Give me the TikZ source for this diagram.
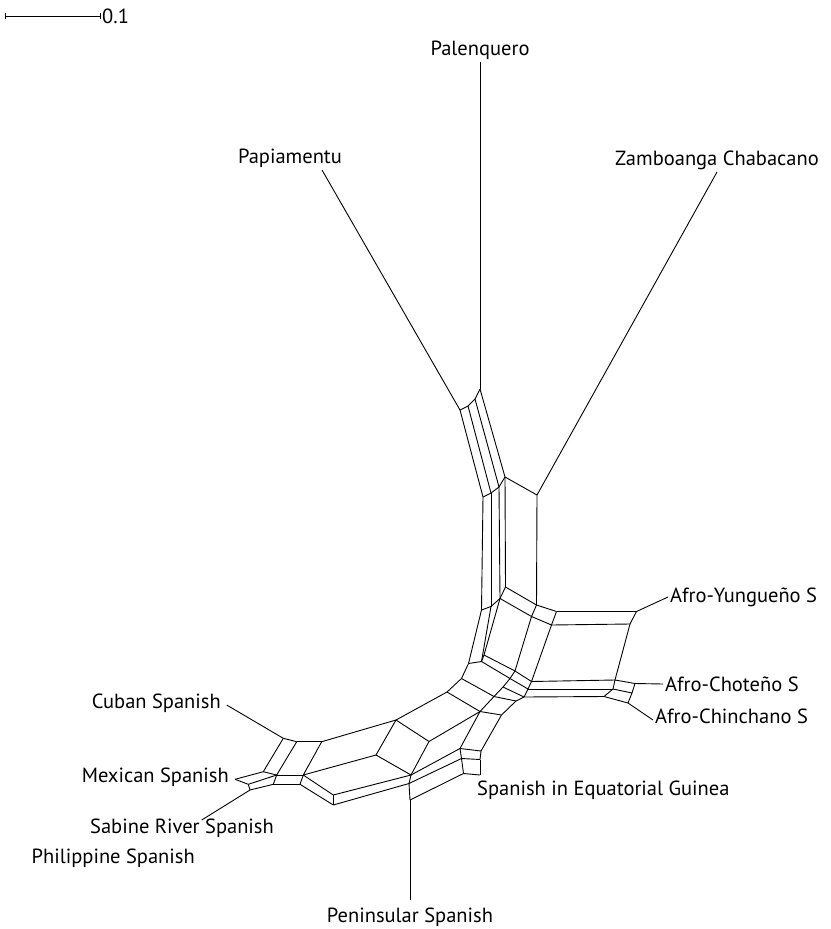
\documentclass[tikz,border=0pt]{standalone}
\usepackage{fontspec}
\setmainfont{PT Sans}
\usetikzlibrary{positioning}
\tikzset{
    edge/.style={line width=0.9pt, black, line join=round},
    taxon/.style={font=\fontsize{20.5}{23}\selectfont, inner sep=1pt}
}

\begin{document}
\begin{tikzpicture}[x=1pt, y=-1pt]
    \useasboundingbox (0,0) rectangle (830,929);

    % scale bar
    \coordinate (sb1) at (5,16);
    \coordinate (sb2) at (100,16);
    \draw[edge] (sb1) -- (sb2);
    \draw[edge] ([yshift=3pt]sb1) -- ([yshift=-3pt]sb1);
    \draw[edge] ([yshift=3pt]sb2) -- ([yshift=-3pt]sb2);
    \node[taxon, anchor=west] (scale) at (101,16) {0.1};

    % top strip
    \coordinate (t1) at (460,410);   \coordinate (t2) at (468,406);
    \coordinate (t3) at (475,399);   \coordinate (t4) at (480,389);
    \coordinate (b1) at (483,497);   \coordinate (b2) at (491,493);
    \coordinate (b3) at (499,487);   \coordinate (b4) at (505,477);
    \coordinate (z1) at (537,495);

    % vertical band
    \coordinate (c1) at (481.5,610); \coordinate (c2) at (491,606.5);
    \coordinate (c3) at (500,598.5); \coordinate (c4) at (505.5,587);
    \coordinate (z2) at (536.5,605);

    % square towards the Afro varieties
    \coordinate (p1) at (531.5,616.5);
    \coordinate (y1) at (556.5,611.5); \coordinate (y2) at (551.5,625);
    \coordinate (y3) at (636.5,611.5); \coordinate (y4) at (630,624);
    \coordinate (s1) at (531.5,681.5); \coordinate (s2) at (528,689);
    \coordinate (s3) at (524,697);
    \coordinate (r1) at (615,680);   \coordinate (r2) at (635,683.5);
    \coordinate (r3) at (632,693);   \coordinate (r4) at (613,689);
    \coordinate (r5) at (628,703);   \coordinate (r6) at (604,696.5);

    % inner part
    \coordinate (d1) at (468.5,663.5); \coordinate (d2) at (481.5,661.5);
    \coordinate (d3) at (484,655);
    \coordinate (e3) at (515,671);   \coordinate (e2) at (510,678.5);
    \coordinate (e1) at (503,687);
    \coordinate (f1) at (461.5,678.5); \coordinate (g1) at (494,696.5);
    \coordinate (g2) at (516,701);
    \coordinate (h1) at (447,692);   \coordinate (h2) at (480,711.5);
    \coordinate (n2) at (501.5,715);
    \coordinate (k1) at (396,720);   \coordinate (k2) at (429,741.5);
    \coordinate (k3) at (411,775);   \coordinate (k4) at (376,755);
    \coordinate (k5) at (409,783.5); \coordinate (k6) at (410,800);

    % Equatorial Guinea box
    \coordinate (m1) at (460,748.5); \coordinate (m2) at (481,751);
    \coordinate (m3) at (461.5,758.5); \coordinate (m4) at (480,759.5);
    \coordinate (m5) at (463.5,773.5); \coordinate (m6) at (480,775);

    % left part
    \coordinate (cu1) at (283.3,738.3); \coordinate (cu2) at (296.7,741.7);
    \coordinate (cu3) at (321.7,741.7);
    \coordinate (cl1) at (263.3,771.7); \coordinate (cl2) at (276.7,775);
    \coordinate (cl3) at (303.3,775);
    \coordinate (cm2) at (273.3,784.3); \coordinate (cm3) at (300,784.3);
    \coordinate (bt1) at (333.3,795);  \coordinate (bt2) at (333.3,805);
    \coordinate (mx) at (235,779.3);   \coordinate (px) at (248.3,784.3);
    \coordinate (sb) at (250,790);

    % leaf ends
    \coordinate (palend) at (480,62);
    \coordinate (papend) at (322,170);
    \coordinate (zamend) at (717,172);
    \coordinate (yunend) at (668,597);
    \coordinate (choend) at (663,684);
    \coordinate (chiend) at (653,720);
    \coordinate (cubend) at (226.7,705);
    \coordinate (sabend) at (201.7,820);
    \coordinate (penend) at (410,900);

    % splits
    \foreach \a/\b in {t1/t2, t2/t3, t3/t4, b1/b2, b2/b3, b3/b4, t1/b1, t2/b2, t3/b3, t4/b4, b4/z1,
                       b1/c1, b2/c2, b3/c3, b4/c4, z1/z2, c1/c2, c2/c3, c3/c4, c4/z2,
                       z2/y1, c3/p1, z2/p1, p1/y2, y1/y2, y1/y3, y2/y4, y3/y4, y2/s1, y4/r1, s1/r1,
                       r1/r2, r2/r3, r3/r4, r1/r4, r4/r6, r3/r5, r5/r6, s1/s2, s2/s3, s2/r4, s3/r6,
                       c1/d1, c2/d2, c3/d3, d1/d2, d2/d3, d3/e3, p1/e3, e3/s1, d2/e2, e3/e2, e2/s2,
                       e2/e1, e1/g1, e1/s3, d1/f1, f1/g1, g1/g2, g2/s3,
                       f1/h1, h1/k1, g1/h2, h1/h2, h2/k2, k1/k2, k1/k4, k2/k3, k3/k4,
                       h2/m1, k3/m1, h2/n2, n2/m2, m1/m2, n2/g2,
                       m1/m3, m2/m4, m3/m4, m3/m5, m4/m6, m5/m6, m3/k5, m5/k6, k3/k5, k5/k6,
                       k1/cu3, k4/cl3, cu1/cu2, cu2/cu3, cl1/cl2, cl2/cl3, cu1/cl1, cu2/cl2, cu3/cl3,
                       cl2/cm2, cl3/cm3, cm2/cm3, mx/cl1, px/cl2, sb/cm2, mx/px, px/sb,
                       cl3/bt1, cm3/bt2, bt1/bt2, bt1/k3, bt2/k5}
        \draw[edge] (\a) -- (\b);

    % leaves
    \foreach \a/\b in {t4/palend, t1/papend, z1/zamend, y3/yunend, r2/choend, r5/chiend,
                       cu1/cubend, sb/sabend, k6/penend}
        \draw[edge] (\a) -- (\b);

    % labels
    \node[taxon, above=1pt of palend] (pal) {Palenquero};
    \node[taxon, above=1pt of papend, xshift=-32pt] (pap) {Papiamentu};
    \node[taxon, above=1pt of zamend] (zam) {Zamboanga Chabacano};
    \node[taxon, right=1pt of yunend] (yun) {Afro-Yungueño S};
    \node[taxon, right=1pt of choend] (cho) {Afro-Choteño S};
    \node[taxon, right=1pt of chiend, yshift=4pt] (chi) {Afro-Chinchano S};
    \node[taxon, anchor=east] (cub) at (222,703) {Cuban Spanish};
    \node[taxon, anchor=east] (mex) at (230,777) {Mexican Spanish};
    \node[taxon] (sab) at (182,828) {Sabine River Spanish};
    \node[taxon, anchor=east] (phi) at (196,858) {Philippine Spanish};
    \node[taxon, anchor=west] (eqg) at (476,790) {Spanish in Equatorial Guinea};
    \node[taxon] (pen) at (410,917) {Peninsular Spanish};
\end{tikzpicture}
\end{document}
